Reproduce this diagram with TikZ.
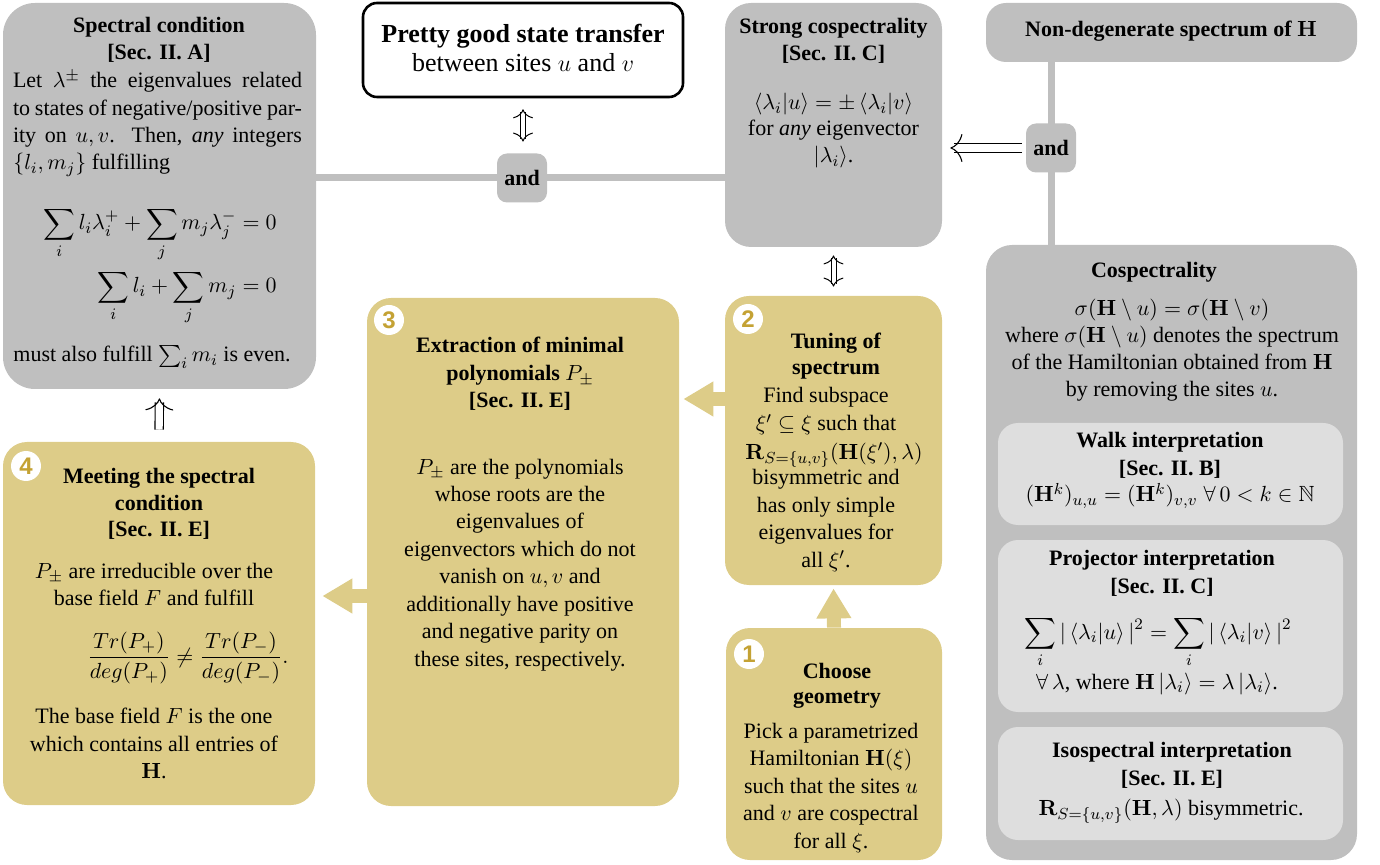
\documentclass[tikz,border=0pt]{standalone}
\usepackage{amsmath,amssymb}
\usepackage[no-math]{fontspec}
\setmainfont{Liberation Serif}
\newfontfamily\numfont{Liberation Sans}
\usetikzlibrary{fit,arrows.meta}
\definecolor{grayA}{RGB}{191,191,191}
\definecolor{lightA}{RGB}{222,222,222}
\definecolor{goldA}{RGB}{221,204,136}
\definecolor{numgold}{RGB}{196,162,52}
\newcommand\fs{\fontsize{11}{13.65}\selectfont}
\newcommand\fsbig{\fontsize{13}{15}\selectfont}
\begin{document}
\begin{tikzpicture}[x=0.5pt,y=-0.5pt,
  gbox/.style={fill=grayA, draw=none, rounded corners=13pt, inner sep=0pt},
  lbox/.style={fill=lightA, draw=none, rounded corners=10pt, inner sep=0pt},
  ybox/.style={fill=goldA, draw=none, rounded corners=12pt, inner sep=0pt},
  pbox/.style={fill=white, draw=black, line width=1.3pt, rounded corners=7pt, inner sep=0pt},
  andbox/.style={fill=grayA, rounded corners=5pt, minimum width=25pt, minimum height=24.5pt, inner sep=0pt, font=\fs\bfseries},
  gline/.style={draw=grayA, line width=3.5pt},
  barrow/.style={draw=goldA, line width=7pt, -{Triangle[length=15pt,width=16.5pt]}},
  dbl/.style={double, double distance=3.6pt, line width=0.55pt},
  dbls/.style={double, double distance=2pt, line width=0.5pt},
  bighead/.style={draw=white, line width=0.55pt, -{Computer Modern Rightarrow[length=6pt,width=14pt,color=black]}},
  bighead2/.style={draw=white, line width=0.5pt, {Computer Modern Rightarrow[length=4.5pt,width=10pt,color=black]}-{Computer Modern Rightarrow[length=4.5pt,width=10pt,color=black]}},
  num/.style={circle, fill=white, minimum size=15pt, inner sep=0pt, text=numgold, font=\numfont\bfseries\fontsize{12}{12}\selectfont},
  t/.style={anchor=base, inner sep=0pt, font=\fs},
  tl/.style={anchor=base west, inner sep=0pt, font=\fs},
  tr/.style={anchor=base east, inner sep=0pt, font=\fs}
]
\useasboundingbox (0,0) rectangle (1380,865);

% ---------- boxes ----------
\node[gbox, rounded corners=16pt, fit={(3,3) (316,389)}] (spec) {};
\node[pbox, fit={(363,3) (683,97)}] (pgst) {};
\node[gbox, fit={(725,3) (942,247)}] (strong) {};
\node[gbox, rounded corners=10pt, fit={(986,3) (1357,62)}] (nondeg) {};
\node[gbox, fit={(986,245) (1357,860)}] (cosp) {};
\node[lbox, fit={(998,423) (1343,525)}] (walk) {};
\node[lbox, fit={(998,540) (1343,712)}] (proj) {};
\node[lbox, fit={(998,727) (1343,840)}] (iso) {};
\node[ybox, fit={(367,298) (679,806)}] (s3) {};
\node[ybox, fit={(725,296) (942,585)}] (s2) {};
\node[ybox, fit={(726,628) (942,860)}] (s1) {};
\node[ybox, fit={(3,442) (315,805)}] (s4) {};

% ---------- connectors ----------
\coordinate (a1) at (522,178);
\coordinate (a2) at (1051,148);
\coordinate (y399) at (0,399);
\coordinate (y596) at (0,596);
\draw[gline] (spec.east |- a1) -- (strong.west |- a1);
\draw[gline] (nondeg.south -| a2) -- (cosp.north -| a2);
\node[andbox] (and1) at (a1) {and};
\node[andbox] (and2) at (a2) {and};

% double arrows: double shaft + Computer Modern heads
\draw[dbls, shorten <=7pt, shorten >=7.25pt] (pgst.south) -- (pgst.south |- and1.north);
\draw[bighead2, shorten <=5.5pt, shorten >=5.75pt] (pgst.south) -- (pgst.south |- and1.north);
\draw[dbls, shorten <=5.5pt, shorten >=6pt] (strong.south) -- (s2.north);
\draw[bighead2, shorten <=4pt, shorten >=4.5pt] (strong.south) -- (s2.north);
\draw[dbl, shorten <=6pt, shorten >=6.5pt] (s4.north) -- (spec.south);
\draw[bighead, shorten <=6pt, shorten >=4.5pt] (s4.north) -- (spec.south);
\draw[dbl, shorten <=1.75pt, shorten >=6pt] (and2.west) -- (strong.east |- and2.west);
\draw[bighead, shorten <=1.75pt, shorten >=4pt] (and2.west) -- (strong.east |- and2.west);

\draw[barrow, shorten >=2pt] (s2.west |- y399) -- (s3.east |- y399);
\draw[barrow, shorten >=3.5pt] (s3.west |- y596) -- (s4.east |- y596);
\draw[barrow, shorten >=1.5pt] (s1.north) -- (s2.south);

% ---------- numbers ----------
\node[num] (n3) at (389,320) {3};
\node[num] (n2) at (748,319) {2};
\node[num] (n1) at (749,654) {1};
\node[num] (n4) at (26,466) {4};

% ---------- spectral condition ----------
\node[t] (sc1) at (159,33) {\textbf{Spectral condition}};
\node[t] (sc2) at (159,60) {\textbf{[Sec. II. A]}};
\node[t] (sc3) at (157.5,88) {\makebox[144.5pt][s]{Let $\lambda^{\pm}$ the eigenvalues related}};
\node[t] (sc4) at (157.5,116) {\makebox[144.5pt][s]{to states of negative/positive par-}};
\node[t] (sc5) at (157.5,143) {\makebox[144.5pt][s]{ity on $u,v$. Then, \textit{any} integers}};
\node[tl] (sc6) at (13,170) {$\{l_i,m_j\}$ fulfilling};
\node[tr] (sc7) at (277,230) {$\displaystyle\sum_i l_i\lambda_i^+ + \sum_j m_j\lambda_j^- = 0$};
\node[tr] (sc8) at (277,293) {$\displaystyle\sum_i l_i + \sum_j m_j = 0$};
\node[tl] (sc9) at (13,362) {must also fulfill $\sum_i m_i$ is even.};

% ---------- pretty good state transfer ----------
\node[t, font=\fsbig] (pg1) at (523,43) {\textbf{Pretty good state transfer}};
\node[t, font=\fsbig] (pg2) at (523,72) {between sites $u$ and $v$};

% ---------- strong cospectrality ----------
\node[t] (st1) at (833.5,34) {\textbf{Strong cospectrality}};
\node[t] (st2) at (833.5,61) {\textbf{[Sec. II. C]}};
\node[t] (st3) at (833.5,110) {$\langle\lambda_i|u\rangle = \pm\,\langle\lambda_i|v\rangle$};
\node[t] (st4) at (833.5,136) {for \textit{any} eigenvector};
\node[t] (st5) at (833.5,163) {$|\lambda_i\rangle$.};

% ---------- non-degenerate ----------
\node[t] (nd1) at (1171,37) {\textbf{Non-degenerate spectrum of $\mathbf{H}$}};

% ---------- cospectrality ----------
\node[t] (c1) at (1154,278) {\textbf{Cospectrality}};
\node[t] (c2) at (1172,316) {$\sigma(\mathbf{H}\setminus u) = \sigma(\mathbf{H}\setminus v)$};
\node[t] (c3) at (1172,343) {where $\sigma(\mathbf{H}\setminus u)$ denotes the spectrum};
\node[t] (c4) at (1172,370) {of the Hamiltonian obtained from $\mathbf{H}$};
\node[t] (c5) at (1172,397) {by removing the sites $u$.};
\node[t] (w1) at (1170,448) {\textbf{Walk interpretation}};
\node[t] (w2) at (1170,475) {\textbf{[Sec. II. B]}};
\node[t] (w3) at (1170,502) {$(\mathbf{H}^k)_{u,u} = (\mathbf{H}^k)_{v,v}\;\forall\,0<k\in\mathbb{N}$};
\node[t] (p1) at (1162,565) {\textbf{Projector interpretation}};
\node[t] (p2) at (1162,593) {\textbf{[Sec. II. C]}};
\node[t] (p3) at (1158,639) {$\displaystyle\sum_i |\,\langle\lambda_i|u\rangle\,|^2 = \sum_i |\,\langle\lambda_i|v\rangle\,|^2$};
\node[t] (p4) at (1157,689) {$\forall\,\lambda$, where $\mathbf{H}\,|\lambda_i\rangle = \lambda\,|\lambda_i\rangle$.};
\node[t] (i1) at (1172,757) {\textbf{Isospectral interpretation}};
\node[t] (i2) at (1172,785) {\textbf{[Sec. II. E]}};
\node[t] (i3) at (1171,815) {$\mathbf{R}_{S=\{u,v\}}(\mathbf{H},\lambda)$ bisymmetric.};

% ---------- step 3 ----------
\node[t] (e1) at (520,353) {\textbf{Extraction of minimal}};
\node[t] (e2) at (520,381) {\textbf{polynomials $P_\pm$}};
\node[t] (e3) at (520,408) {\textbf{[Sec. II. E]}};
\node[t] (e4) at (520,474) {$P_\pm$ are the polynomials};
\node[t] (e5) at (520,502) {whose roots are the};
\node[t] (e6) at (520,529) {eigenvalues of};
\node[t] (e7) at (520,556) {eigenvectors which do not};
\node[t] (e8) at (520,583) {vanish on $u,v$ and};
\node[t] (e9) at (520,611) {additionally have positive};
\node[t] (e10) at (520,638) {and negative parity on};
\node[t] (e11) at (520,666) {these sites, respectively.};

% ---------- step 2 ----------
\node[t] (u1) at (836,349) {\textbf{Tuning of}};
\node[t] (u2) at (836,375) {\textbf{spectrum}};
\node[t] (u3) at (826,403) {Find subspace};
\node[t] (u4) at (826,431) {$\xi'\subseteq\xi$ such that};
\node[tl] (u5) at (745,459) {$\mathbf{R}_{S=\{u,v\}}(\mathbf{H}(\xi'),\lambda)$};
\node[t] (u6) at (826,485) {bisymmetric and};
\node[t] (u7) at (826,512) {has only simple};
\node[t] (u8) at (826,539) {eigenvalues for};
\node[t] (u9) at (826,567) {all $\xi'$.};

% ---------- step 1 ----------
\node[t] (g1) at (837,678) {\textbf{Choose}};
\node[t] (g2) at (837,703) {\textbf{geometry}};
\node[t] (g3) at (831,738) {Pick a parametrized};
\node[t] (g4) at (831,765) {Hamiltonian $\mathbf{H}(\xi)$};
\node[t] (g5) at (831,793) {such that the sites $u$};
\node[t] (g6) at (831,820) {and $v$ are cospectral};
\node[t] (g7) at (831,848) {for all $\xi$.};

% ---------- step 4 ----------
\node[t] (m1) at (159,483) {\textbf{Meeting the spectral}};
\node[t] (m2) at (159,510) {\textbf{condition}};
\node[t] (m3) at (159,537) {\textbf{[Sec. II. E]}};
\node[t] (m4) at (154,578) {$P_\pm$ are irreducible over the};
\node[t] (m5) at (154,605) {base field $F$ and fulfill};
\node[tl] (m6) at (87,663) {$\displaystyle\frac{Tr(P_+)}{deg(P_+)} \neq \frac{Tr(P_-)}{deg(P_-)}.$};
\node[t] (m7) at (154,723) {The base field $F$ is the one};
\node[t] (m8) at (154,751) {which contains all entries of};
\node[t] (m9) at (154,778) {$\mathbf{H}$.};
\end{tikzpicture}
\end{document}
